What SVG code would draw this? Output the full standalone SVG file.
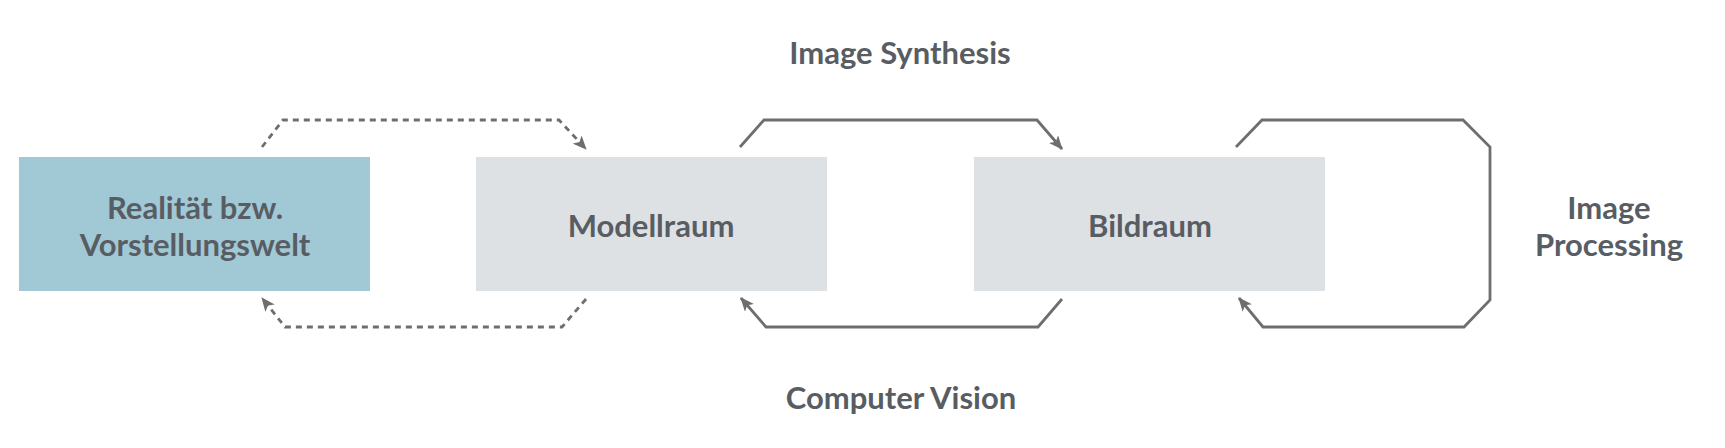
<svg xmlns="http://www.w3.org/2000/svg" width="1725" height="448" viewBox="0 0 1725 448">
<style>
text{font-family:Lato,"Open Sans","Liberation Sans",sans-serif;font-weight:700;font-size:31px;fill:#585d64;text-anchor:middle;dominant-baseline:central}
.box{fill:#dee1e4}
.real{fill:#a1c8d5}
.c{fill:none;stroke:#6e6e6e;stroke-width:2.8;stroke-linejoin:miter}
.d{stroke-dasharray:6 5}
</style>
<defs>
<marker id="ah" viewBox="0 0 14 12" refX="13" refY="6" markerWidth="14" markerHeight="12" markerUnits="userSpaceOnUse" orient="auto">
<path d="M0,0 L14,6 L0,12 L3.5,6 Z" fill="#6e6e6e"/>
</marker>
</defs>
<rect width="1725" height="448" fill="#ffffff"/>
<g id="realitaet">
<rect class="real" x="19" y="157" width="351" height="134"/>
<text x="195" y="207">Realität bzw.</text>
<text x="195" y="244">Vorstellungswelt</text>
</g>
<g id="modellraum">
<rect class="box" x="476" y="157" width="351" height="134"/>
<text x="651" y="225">Modellraum</text>
</g>
<g id="bildraum">
<rect class="box" x="974" y="157" width="351" height="134"/>
<text x="1150" y="225">Bildraum</text>
</g>
<g id="labels">
<text x="900" y="52">Image Synthesis</text>
<text x="901" y="397">Computer Vision</text>
<text x="1609" y="207">Image</text>
<text x="1609" y="244">Processing</text>
</g>
<g id="connectors">
<path class="c d" d="M262,147 L283,120 L559,120 L586,149" marker-end="url(#ah)"/>
<path class="c d" d="M586,299 L562,327 L285,327 L262,298" marker-end="url(#ah)"/>
<path class="c" d="M740,147 L764,120 L1037,120 L1062,149" marker-end="url(#ah)"/>
<path class="c" d="M1062,299 L1038,327 L766,327 L741,298" marker-end="url(#ah)"/>
<path class="c" d="M1236,147 L1262,120 L1463,120 L1490,147 L1490,300 L1464,327 L1263,327 L1239,298" marker-end="url(#ah)"/>
</g>
</svg>
